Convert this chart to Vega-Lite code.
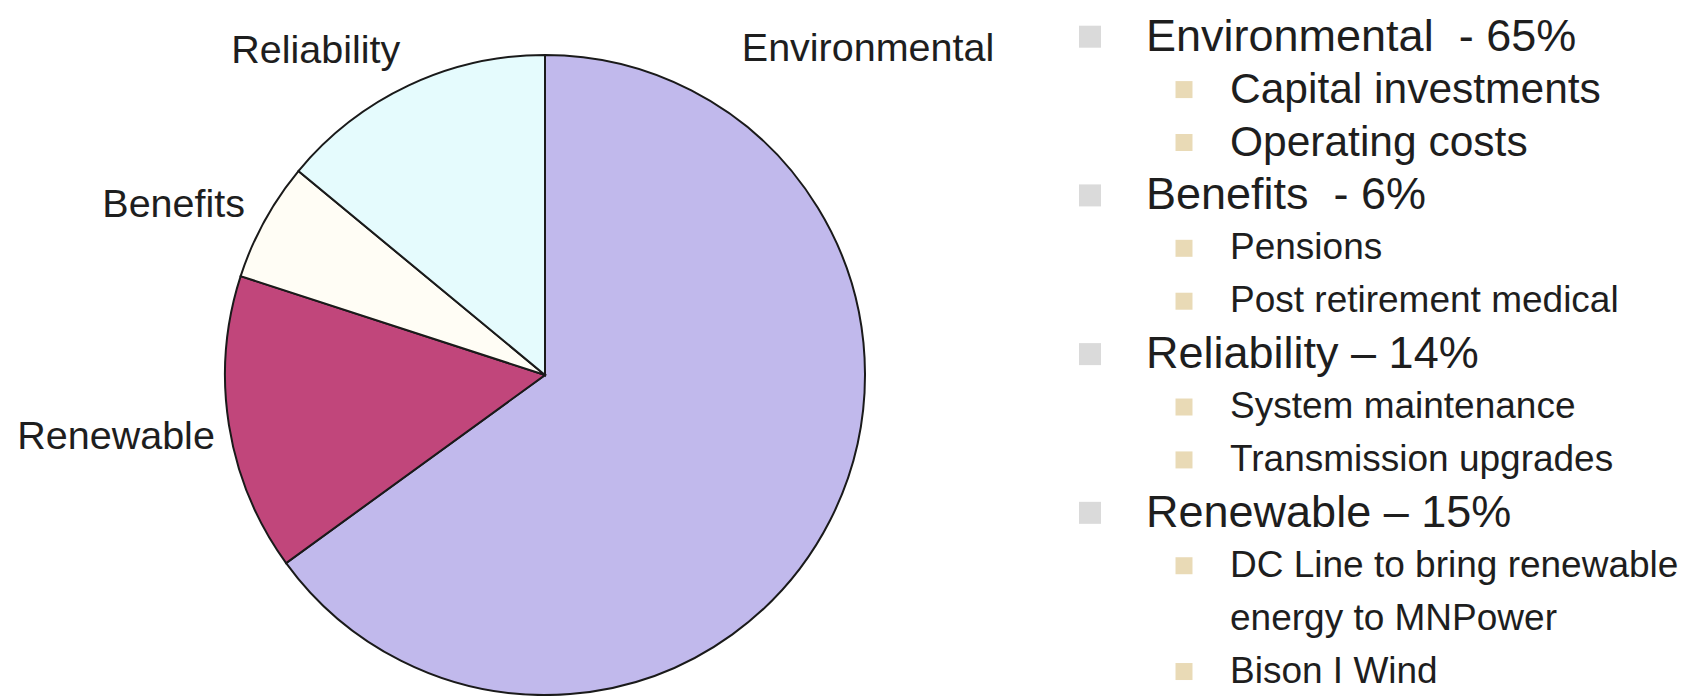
{
  "$schema": "https://vega.github.io/schema/vega-lite/v6.json",
  "width": 1699,
  "height": 696,
  "autosize": {"type": "none"},
  "padding": 0,
  "background": "white",
  "config": {"view": {"stroke": null}, "font": "Liberation Sans", "text": {"font": "Liberation Sans"}},
  "datasets": {
    "pie": [
      {"category": "Environmental", "value": 65, "ord": 1},
      {"category": "Renewable", "value": 15, "ord": 2},
      {"category": "Benefits", "value": 6, "ord": 3},
      {"category": "Reliability", "value": 14, "ord": 4}
    ],
    "list": [
      {"line": 1, "level": 1, "group": "Environmental", "text": "Environmental\u00a0 - 65%", "cont": false},
      {"line": 2, "level": 2, "group": "Environmental", "text": "Capital investments", "cont": false},
      {"line": 3, "level": 2, "group": "Environmental", "text": "Operating costs", "cont": false},
      {"line": 4, "level": 1, "group": "Benefits", "text": "Benefits\u00a0 - 6%", "cont": false},
      {"line": 5, "level": 2, "group": "Benefits", "text": "Pensions", "cont": false},
      {"line": 6, "level": 2, "group": "Benefits", "text": "Post retirement medical", "cont": false},
      {"line": 7, "level": 1, "group": "Reliability", "text": "Reliability – 14%", "cont": false},
      {"line": 8, "level": 2, "group": "Reliability", "text": "System maintenance", "cont": false},
      {"line": 9, "level": 2, "group": "Reliability", "text": "Transmission upgrades", "cont": false},
      {"line": 10, "level": 1, "group": "Renewable", "text": "Renewable – 15%", "cont": false},
      {"line": 11, "level": 2, "group": "Renewable", "text": "DC Line to bring renewable", "cont": false},
      {"line": 12, "level": 2, "group": "Renewable", "text": "energy to MNPower", "cont": true},
      {"line": 13, "level": 2, "group": "Renewable", "text": "Bison I Wind", "cont": false}
    ]
  },
  "layer": [
    {
      "data": {"name": "pie"},
      "encoding": {
        "theta": {"field": "value", "type": "quantitative", "stack": true},
        "order": {"field": "ord", "type": "quantitative"}
      },
      "layer": [
        {
          "mark": {"type": "arc", "outerRadius": 320, "stroke": "#1a1a1a", "strokeWidth": 2, "xOffset": -304.5, "yOffset": 27},
          "encoding": {
            "color": {
              "field": "category",
              "type": "nominal",
              "scale": {
                "domain": ["Environmental", "Renewable", "Benefits", "Reliability"],
                "range": ["#c1b9ec", "#c1467b", "#fffdf5", "#e5fbfd"]
              },
              "legend": null
            }
          }
        },
        {
          "mark": {"type": "text", "radius": 336, "thetaOffset": -0.03, "align": "right", "baseline": "middle", "fontSize": 39.5, "color": "#1e1e1e", "xOffset": -304.5, "yOffset": 27},
          "encoding": {
            "detail": {"field": "category", "type": "nominal"},
            "text": {"condition": {"test": "datum.category === 'Renewable'", "field": "category", "type": "nominal"}, "value": ""}
          }
        },
        {
          "mark": {"type": "text", "radius": 345, "thetaOffset": 0.014, "align": "right", "baseline": "middle", "fontSize": 39.5, "color": "#1e1e1e", "xOffset": -304.5, "yOffset": 27},
          "encoding": {
            "detail": {"field": "category", "type": "nominal"},
            "text": {"condition": {"test": "datum.category === 'Benefits'", "field": "category", "type": "nominal"}, "value": ""}
          }
        },
        {
          "mark": {"type": "text", "radius": 355, "thetaOffset": 0.02, "align": "right", "baseline": "middle", "fontSize": 39.5, "color": "#1e1e1e", "xOffset": -304.5, "yOffset": 27},
          "encoding": {
            "detail": {"field": "category", "type": "nominal"},
            "text": {"condition": {"test": "datum.category === 'Reliability'", "field": "category", "type": "nominal"}, "value": ""}
          }
        },
        {
          "mark": {"type": "text", "radius": 381, "thetaOffset": -1.4993, "align": "left", "baseline": "middle", "fontSize": 39.5, "color": "#1e1e1e", "xOffset": -304.5, "yOffset": 27},
          "encoding": {
            "detail": {"field": "category", "type": "nominal"},
            "text": {"condition": {"test": "datum.category === 'Environmental'", "field": "category", "type": "nominal"}, "value": ""}
          }
        }
      ]
    },
    {
      "data": {"name": "list"},
      "layer": [
        {
          "transform": [{"filter": "!datum.cont"}],
          "mark": {"type": "square", "opacity": 1, "filled": true},
          "encoding": {
            "x": {"field": "level", "type": "quantitative", "scale": {"domain": [1, 2], "range": [1090, 1184], "zero": false, "nice": false}, "axis": null},
            "y": {"field": "line", "type": "ordinal", "scale": {"padding": 0.578, "align": 0.6}, "axis": null},
            "size": {"condition": {"test": "datum.level == 1", "value": 484}, "value": 289},
            "color": {"condition": {"test": "datum.level == 1", "value": "#dadada"}, "value": "#e9dab6"}
          }
        },
        {
          "mark": {"type": "text", "align": "left", "baseline": "middle", "color": "#1e1e1e", "font": "Liberation Sans"},
          "encoding": {
            "x": {"field": "level", "type": "quantitative", "scale": {"domain": [1, 2], "range": [1146, 1230], "zero": false, "nice": false}, "axis": null},
            "y": {"field": "line", "type": "ordinal", "scale": {"padding": 0.578, "align": 0.6}, "axis": null},
            "text": {"field": "text", "type": "nominal"},
            "size": {"condition": [{"test": "datum.level == 1", "value": 45}, {"test": "datum.group == 'Environmental'", "value": 42.5}], "value": 37}
          }
        }
      ],
      "resolve": {"scale": {"x": "independent"}}
    }
  ]
}
